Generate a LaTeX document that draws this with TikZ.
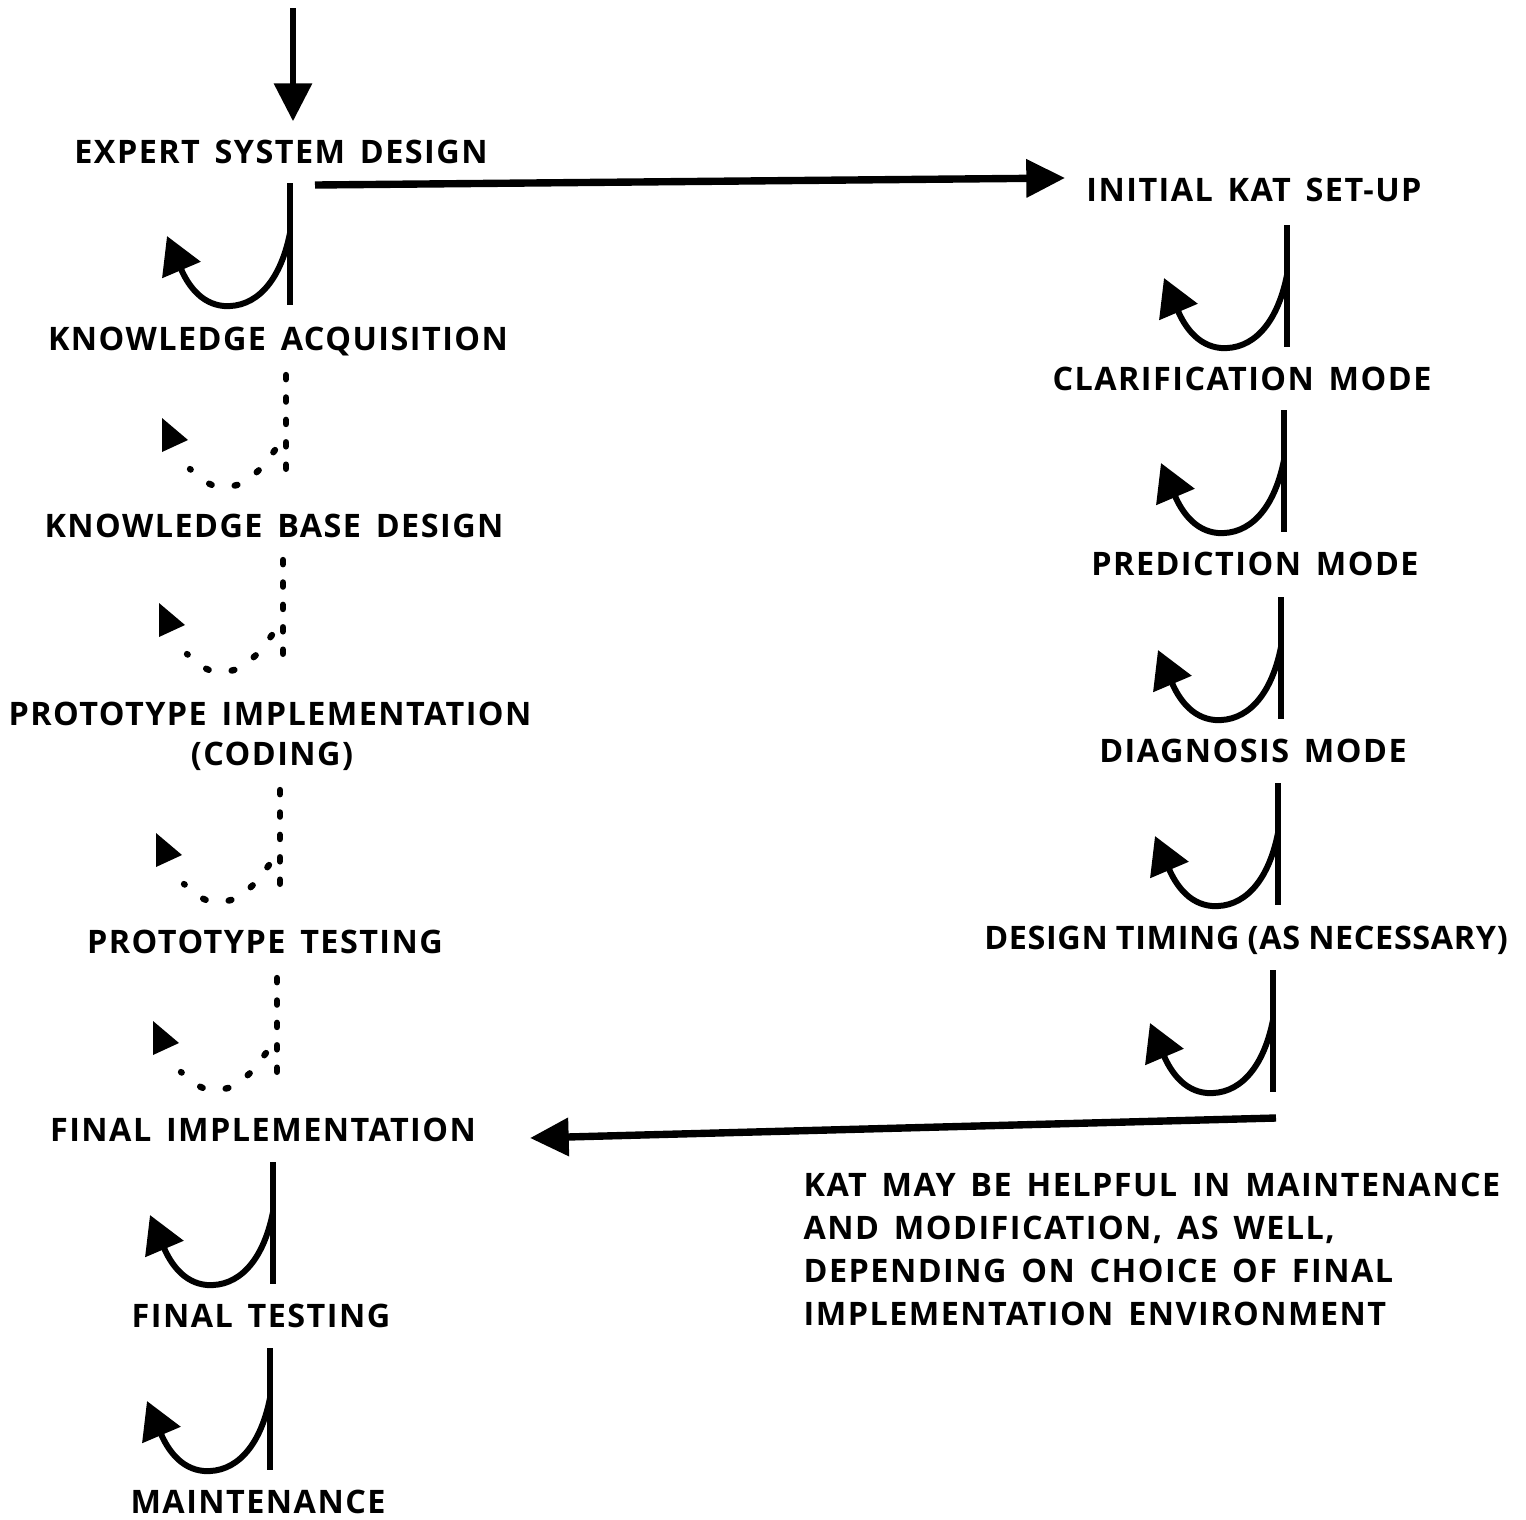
\documentclass[tikz,border=0pt]{standalone}
\usepackage{fontspec}
\setmainfont{Open Sans}[LetterSpace=4.5,WordSpace=1.5]
\newfontfamily\tightfont{Open Sans}[LetterSpace=2,WordSpace=0.9]
\usetikzlibrary{arrows.meta}
\begin{document}
\begin{tikzpicture}[x=0.01cm,y=-0.01cm,
  lbl/.style={font=\bfseries\fontsize{9.2}{12.2}\selectfont, inner sep=0pt, anchor=base},
  tight/.style={font=\tightfont\bfseries\fontsize{9.2}{12.2}\selectfont},
  solidline/.style={line width=1.7pt},
  dotline/.style={line width=1.8pt, line cap=round},
  flow/.style={line width=2.1pt, -{Triangle[length=11pt,width=10.5pt]}},
  % a solid step line with a loop arrow curling back to the left
  pics/loopback/.style={code={
    \draw[solidline] (0,0) -- (0,122);
    \draw[solidline, -{Triangle[length=10.5pt,width=11.5pt]}]
      (0,50) .. controls (-10,100) and (-35,125) .. (-66,123)
             .. controls (-90,121) and (-103,100) .. (-123,53);
  }},
  % the same loop, drawn as a dotted line
  pics/dottedloop/.style={code={
    \draw[dotline, dash pattern=on 1.2pt off 5.17pt] (0,0) -- (0,112);
    \draw[dotline, dash pattern=on 0.8pt off 6.6pt]
      plot[smooth] coordinates {(-11,75) (-28,96) (-49,110) (-74,110) (-96,94)};
    \fill (-124,43) -- (-124,77) -- (-98,65) -- cycle;
  }},
]
\useasboundingbox (0,0) rectangle (1526,1520);

% left column: development stages
\node[lbl] (esd)  at (281,163)  {EXPERT SYSTEM DESIGN};
\node[lbl] (ka)   at (278,350)  {KNOWLEDGE ACQUISITION};
\node[lbl] (kbd)  at (274,537)  {KNOWLEDGE BASE DESIGN};
\node[lbl] (pi)   at (270,725)  {PROTOTYPE IMPLEMENTATION};
\node[lbl] (pic)  at (272,765)  {(CODING)};
\node[lbl] (pt)   at (265,953)  {PROTOTYPE TESTING};
\node[lbl] (fi)   at (263,1141) {FINAL IMPLEMENTATION};
\node[lbl] (ft)   at (261,1327) {FINAL TESTING};
\node[lbl] (mt)   at (258,1513) {MAINTENANCE};

% right column: KAT stages
\node[lbl] (kat)  at (1254,201) {INITIAL KAT SET-UP};
\node[lbl] (cm)   at (1242,390) {CLARIFICATION MODE};
\node[lbl] (pm)   at (1255,575) {PREDICTION MODE};
\node[lbl] (dm)   at (1253,762) {DIAGNOSIS MODE};
\node[lbl, tight] (dt) at (1246,949) {DESIGN TIMING (AS NECESSARY)};

\node[lbl, anchor=base west, align=left] (note) at (803,1325)
  {KAT MAY BE HELPFUL IN MAINTENANCE\\
   AND MODIFICATION, AS WELL,\\
   DEPENDING ON CHOICE OF FINAL\\
   IMPLEMENTATION ENVIRONMENT};

% entry arrow
\coordinate (entry) at (293,8);
\draw[line width=1.9pt, -{Triangle[length=10.8pt,width=10.5pt]}, shorten >=5pt]
  (entry) -- (entry |- esd.north);

% loops between the left-hand stages
\pic at (290,183)  {loopback};
\pic at (286,375)  {dottedloop};
\pic at (283,560)  {dottedloop};
\pic at (280,790)  {dottedloop};
\pic at (277,978)  {dottedloop};
\pic at (273,1162) {loopback};
\pic at (270,1348) {loopback};

% loops between the right-hand stages
\pic at (1287,225) {loopback};
\pic at (1284,410) {loopback};
\pic at (1281,597) {loopback};
\pic at (1278,783) {loopback};
\pic at (1273,970) {loopback};

% cross-over arrows
\coordinate (toKat)   at (315,185);
\coordinate (katIn)   at (1065,178);
\coordinate (fromKat) at (1276,1118);
\coordinate (fiIn)    at (530,1138);
\draw[flow] (toKat) -- (katIn);
\draw[flow] (fromKat) -- (fiIn);
\end{tikzpicture}
\end{document}
